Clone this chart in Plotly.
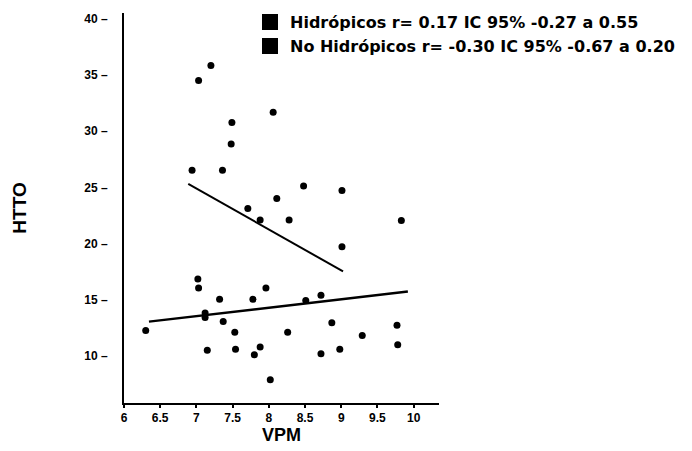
import plotly.graph_objects as go

# Hidrópicos (lower cluster)
hid_x = [7.02, 7.03, 7.96, 7.32, 7.78, 8.51, 8.72, 7.12, 7.12, 7.37, 6.30, 7.53, 8.26,
         8.87, 9.29, 9.77, 9.78, 7.15, 7.54, 7.88, 7.80, 8.72, 8.98, 8.02]
hid_y = [16.87, 16.07, 16.07, 15.06, 15.06, 14.96, 15.42, 13.85, 13.45, 13.10, 12.29, 12.14, 12.14,
         12.99, 11.84, 12.75, 11.03, 10.53, 10.63, 10.83, 10.13, 10.23, 10.63, 7.91]
# No Hidrópicos (upper cluster)
nohid_x = [7.20, 7.03, 8.06, 7.49, 7.48, 6.94, 7.36, 8.48, 9.01, 8.11, 7.71, 7.88, 8.28,
           9.83, 9.01]
nohid_y = [35.84, 34.50, 31.68, 30.77, 28.86, 26.54, 26.54, 25.13, 24.73, 24.02, 23.12, 22.11, 22.11,
           22.06, 19.74]
# Fitted lines (endpoints)
hid_fit_x = [6.345, 9.92]
hid_fit_y = [13.08, 15.75]
nohid_fit_x = [6.887, 9.025]
nohid_fit_y = [25.32, 17.54]

legend_labels = ["Hidrópicos r= 0.17 IC 95% -0.27 a 0.55",
                 "No Hidrópicos r= -0.30 IC 95% -0.67 a 0.20"]

x_ticks = [6, 6.5, 7, 7.5, 8, 8.5, 9, 9.5, 10]
x_ticktext = ["6", "6.5", "7", "7.5", "8", "8.5", "9", "9.5", "10"]
y_ticks = [10, 15, 20, 25, 30, 35, 40]
y_ticktext = ["10 –", "15 –", "20 –", "25 –", "30 –", "35 –", "40 –"]

FONT = "Liberation Sans, Arial, sans-serif"
LFONT = "DejaVu Sans, sans-serif"

fig = go.Figure()
fig.add_trace(go.Scatter(x=hid_x, y=hid_y, mode="markers",
                         marker=dict(color="black", size=7), showlegend=False))
fig.add_trace(go.Scatter(x=nohid_x, y=nohid_y, mode="markers",
                         marker=dict(color="black", size=7), showlegend=False))
fig.add_trace(go.Scatter(x=hid_fit_x, y=hid_fit_y, mode="lines",
                         line=dict(color="black", width=2.5), showlegend=False))
fig.add_trace(go.Scatter(x=nohid_fit_x, y=nohid_fit_y, mode="lines",
                         line=dict(color="black", width=2), showlegend=False))
for lab in legend_labels:
    fig.add_trace(go.Scatter(x=[None], y=[None], mode="markers", name=lab,
                             marker=dict(color="black", size=17, symbol="square")))

fig.update_layout(
    width=692, height=451,
    margin=dict(l=124, r=253, t=5, b=48),
    paper_bgcolor="white", plot_bgcolor="white",
    font=dict(family=FONT, color="black"),
    legend=dict(x=0.40, y=1.02, xanchor="left", yanchor="top",
                xref="paper", yref="paper",
                font=dict(size=16, family=LFONT, color="black", weight="bold"),
                bgcolor="rgba(0,0,0,0)", itemsizing="trace", itemwidth=30,
                tracegroupgap=0),
)
fig.update_xaxes(range=[6, 10.35], tickmode="array", tickvals=x_ticks, ticktext=x_ticktext,
                 showgrid=False, zeroline=False, showline=True, linecolor="black", linewidth=2,
                 ticks="outside", ticklen=3, tickwidth=2, tickcolor="black",
                 tickfont=dict(size=12, family=FONT, weight="bold"),
                 title=dict(text="<b>VPM</b>", font=dict(size=18, family=FONT), standoff=2))
fig.update_yaxes(range=[5.85, 40.5], tickmode="array", tickvals=y_ticks, ticktext=y_ticktext,
                 showgrid=False, zeroline=False, showline=True, linecolor="black", linewidth=2,
                 ticks="", ticklabelstandoff=12,
                 tickfont=dict(size=12, family=FONT, weight="bold"),
                 title=dict(text="<b>HTTO</b>", font=dict(size=19, family=FONT), standoff=53))

fig.write_html("out.html")
